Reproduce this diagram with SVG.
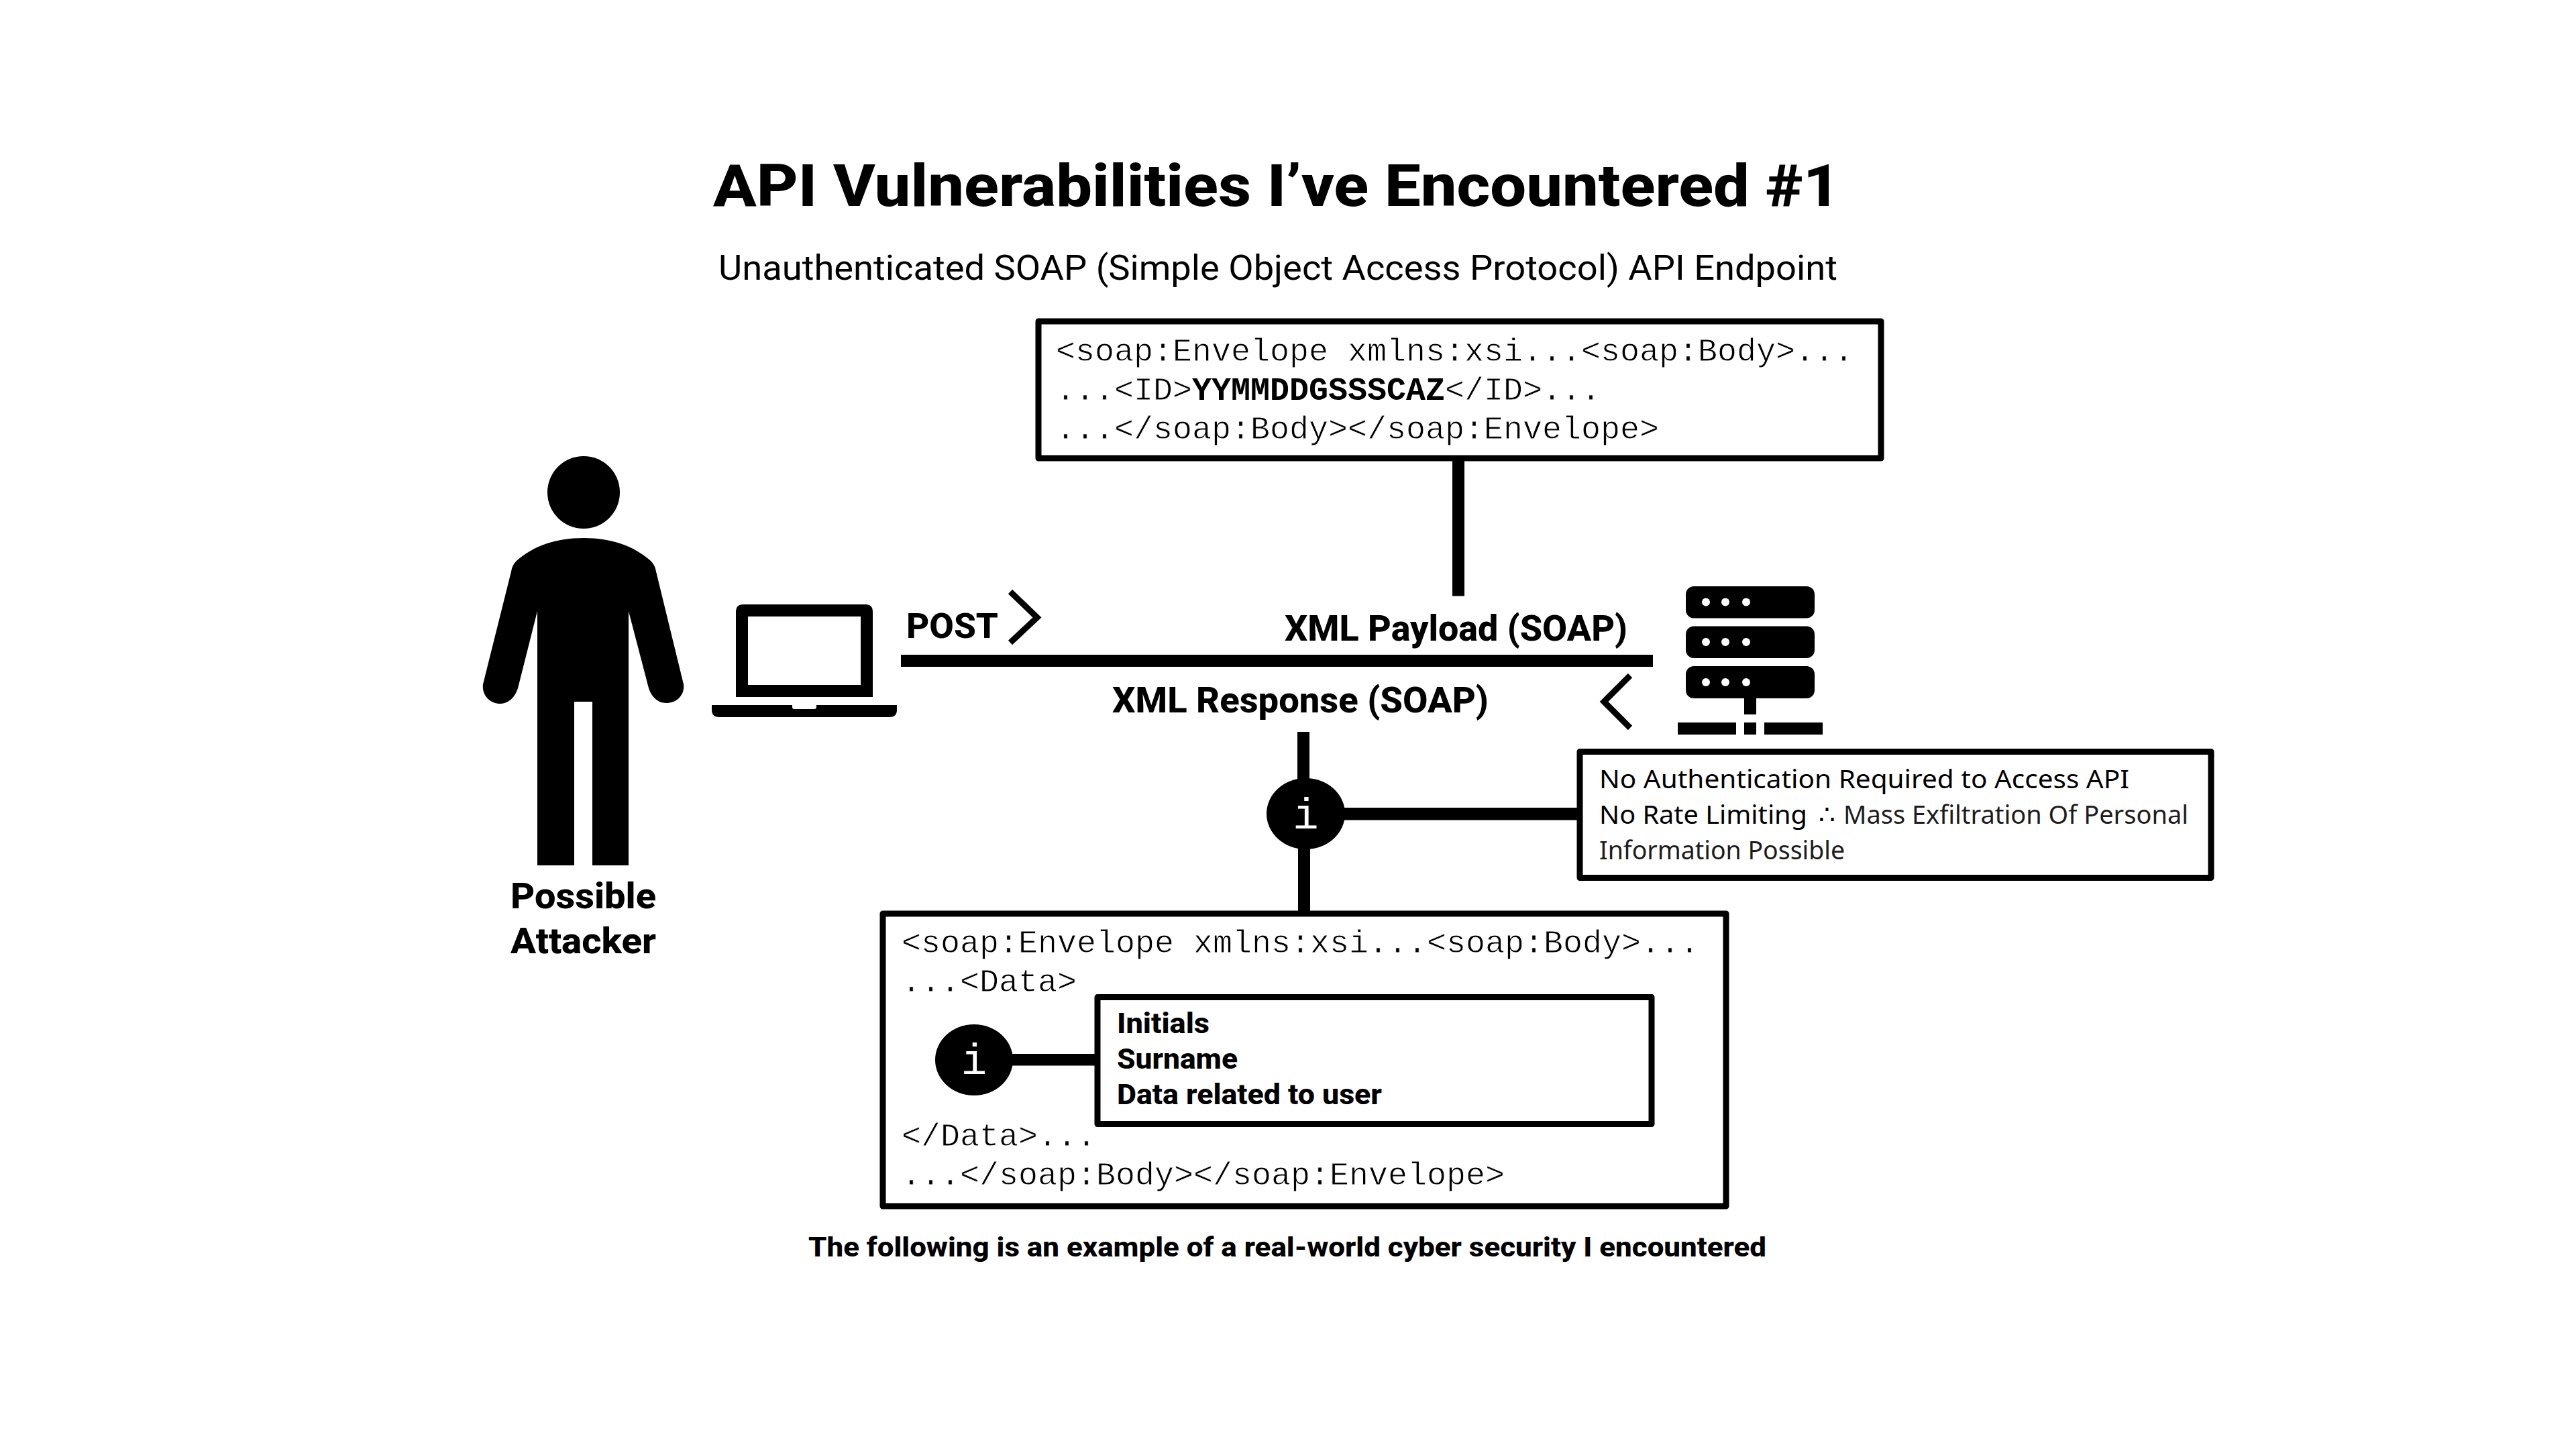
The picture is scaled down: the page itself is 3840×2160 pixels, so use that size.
<svg xmlns="http://www.w3.org/2000/svg" width="3840" height="2160" viewBox="0 0 3840 2160">
<style>
.b{fill:#000}
.box{fill:#fff;stroke:#000;stroke-width:9;stroke-linejoin:round}
.chev{stroke:#000;fill:none;stroke-width:9;stroke-linejoin:miter}
text{fill:#000}
.s{font-family:"Roboto","Liberation Sans",sans-serif}
.bd{font-family:"Roboto","Liberation Sans",sans-serif;font-weight:800}
.n{font-family:"Noto Sans","Liberation Sans",sans-serif;font-size:39px}
.d{fill:#1c1c1c}
.m{font-family:"Liberation Mono",monospace;font-size:48.330px;stroke:#fff;stroke-width:0.8px}
.m tspan{stroke:none}
.i{font-family:"Liberation Mono",monospace;font-size:64px;fill:#fff;text-anchor:middle}
</style>
<rect width="3840" height="2160" fill="#fff"/>
<g id="title">
<text class="bd" x="1063" y="307" font-size="88" textLength="1680" lengthAdjust="spacingAndGlyphs">API Vulnerabilities I’ve Encountered #1</text>
<text class="s" x="1071" y="417" font-size="52" textLength="1668" lengthAdjust="spacingAndGlyphs">Unauthenticated SOAP (Simple Object Access Protocol) API Endpoint</text>
</g>
<g id="request">
<rect x="1548" y="479" width="1256" height="204" class="box"/>
<text class="m" x="1574" y="538">&lt;soap:Envelope xmlns:xsi...&lt;soap:Body&gt;...</text>
<text class="m" x="1574" y="596">...&lt;ID&gt;<tspan font-weight="700">YYMMDDGSSSCAZ</tspan>&lt;/ID&gt;...</text>
<text class="m" x="1574" y="654">...&lt;/soap:Body&gt;&lt;/soap:Envelope&gt;</text>
</g>
<g id="findings">
<rect x="2355" y="1120.500" width="941" height="188" class="box"/>
<text class="n" x="2384" y="1175" textLength="790" lengthAdjust="spacingAndGlyphs">No Authentication Required to Access API</text>
<text class="n" x="2384" y="1228" textLength="310" lengthAdjust="spacingAndGlyphs">No Rate Limiting</text>
<text class="n" x="2711" y="1228">∴</text>
<text class="n d" x="2748" y="1228" textLength="514" lengthAdjust="spacingAndGlyphs">Mass Exfiltration Of Personal</text>
<text class="n d" x="2384" y="1281" textLength="366" lengthAdjust="spacingAndGlyphs">Information Possible</text>
</g>
<g id="response">
<rect x="1316" y="1362" width="1257" height="436" class="box"/>
<text class="m" x="1344" y="1420">&lt;soap:Envelope xmlns:xsi...&lt;soap:Body&gt;...</text>
<text class="m" x="1344" y="1478">...&lt;Data&gt;</text>
<text class="m" x="1344" y="1708">&lt;/Data&gt;...</text>
<text class="m" x="1344" y="1766">...&lt;/soap:Body&gt;&lt;/soap:Envelope&gt;</text>
</g>
<g id="fields">
<rect x="1636" y="1486.500" width="826" height="189" class="box"/>
<text class="bd" x="1665" y="1540" font-size="43" textLength="138" lengthAdjust="spacingAndGlyphs">Initials</text>
<text class="bd" x="1665" y="1593" font-size="43" textLength="180" lengthAdjust="spacingAndGlyphs">Surname</text>
<text class="bd" x="1665" y="1646" font-size="43" textLength="395" lengthAdjust="spacingAndGlyphs">Data related to user</text>
</g>
<g id="connectors">
<rect x="1343" y="976" width="1121" height="18" class="b"/>
<rect x="2165" y="683" width="18" height="205.500" class="b"/>
<rect x="1934" y="1091" width="18" height="75" class="b"/>
<rect x="1935" y="1260" width="18" height="98" class="b"/>
<rect x="2000" y="1204" width="351" height="18.500" class="b"/>
<rect x="1505" y="1571" width="127" height="17.500" class="b"/>
<polyline class="chev" points="1506,882 1546,920.500 1506,958"/>
<polyline class="chev" points="2430,1007 2391,1046 2430,1085"/>
</g>
<g id="attacker">
<circle cx="870" cy="734" r="54" class="b"/>
<path class="b" d="M870,802C828,802 795,814 770,836C765,841 763,846 762,852L720,1020C718,1036 730,1049 746,1049C760,1049 770,1036 773,1022L801,911V1290H856V1046H883V1290H937V911L966,1022C969,1036 979,1048 993,1048C1009,1048 1021,1036 1019,1020L978,852C977,846 975,841 970,836C945,814 912,802 870,802Z"/>
<text class="bd" x="869.500" y="1354" font-size="54" text-anchor="middle" textLength="217" lengthAdjust="spacingAndGlyphs">Possible</text>
<text class="bd" x="869.500" y="1421" font-size="54" text-anchor="middle" textLength="217" lengthAdjust="spacingAndGlyphs">Attacker</text>
</g>
<g id="laptop">
<path class="b" fill-rule="evenodd" d="M1108,901H1290Q1301,901 1301,912V1039H1097V912Q1097,901 1108,901ZM1115,919V1021H1283V919Z"/>
<path class="b" d="M1061,1051H1181V1054Q1181,1057 1184,1057H1214Q1217,1057 1217,1054V1051H1337V1058Q1337,1069 1326,1069H1072Q1061,1069 1061,1058Z"/>
</g>
<g id="server">
<rect x="2513" y="874" width="192" height="47.500" rx="12" class="b"/>
<rect x="2513" y="933.500" width="192" height="47.500" rx="12" class="b"/>
<rect x="2513" y="993" width="192" height="48" rx="12" class="b"/>
<g fill="#fff">
<circle cx="2543" cy="897.500" r="6"/><circle cx="2572" cy="897.500" r="6"/><circle cx="2603" cy="897.500" r="6"/>
<circle cx="2543" cy="957" r="6"/><circle cx="2572" cy="957" r="6"/><circle cx="2603" cy="957" r="6"/>
<circle cx="2543" cy="1017" r="6"/><circle cx="2572" cy="1017" r="6"/><circle cx="2603" cy="1017" r="6"/>
</g>
<rect x="2600" y="1041" width="18" height="24" class="b"/>
<rect x="2501" y="1077" width="87" height="18" class="b"/>
<rect x="2600" y="1077" width="18" height="18" class="b"/>
<rect x="2630" y="1077" width="87" height="18" class="b"/>
</g>
<g id="labels">
<text class="bd" x="1351" y="951" font-size="52" textLength="137" lengthAdjust="spacingAndGlyphs">POST</text>
<text class="bd" x="1915" y="955" font-size="54" textLength="511" lengthAdjust="spacingAndGlyphs">XML Payload (SOAP)</text>
<text class="bd" x="1658" y="1062" font-size="54" textLength="561" lengthAdjust="spacingAndGlyphs">XML Response (SOAP)</text>
<text class="bd" x="1205" y="1873" font-size="41" textLength="1428" lengthAdjust="spacingAndGlyphs">The following is an example of a real-world cyber security I encountered</text>
</g>
<g id="info1">
<ellipse cx="1946.500" cy="1213" rx="58.500" ry="53" class="b"/>
<text class="i" x="1946.500" y="1235">i</text>
</g>
<g id="info2">
<ellipse cx="1452" cy="1580" rx="58" ry="53" class="b"/>
<text class="i" x="1452" y="1601">i</text>
</g>
</svg>
